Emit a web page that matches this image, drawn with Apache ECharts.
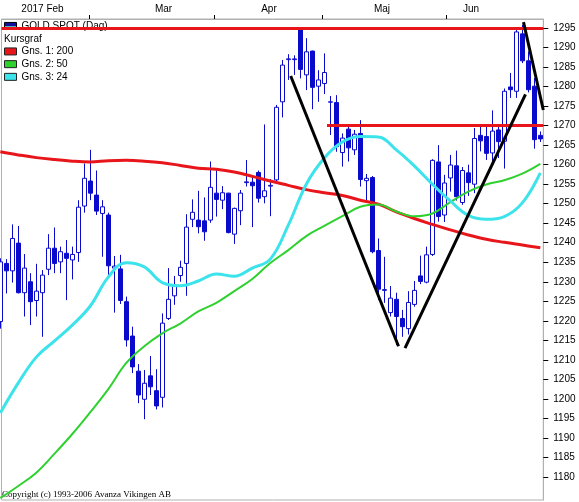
<!DOCTYPE html>
<html><head><meta charset="utf-8">
<script src="https://cdn.jsdelivr.net/npm/echarts@6/dist/echarts.min.js"></script>
<style>html,body{margin:0;padding:0;background:#fff}#c{width:579px;height:502px}</style>
</head><body><div id="c"></div>
<script>
// Daily candles [open, close, low, high]; index 0 is the partially visible first candle
const ohlc = [
[1219.8,1235.1,1218.0,1236.0],[1234.7,1232.8,1227.0,1235.8],[1232.8,1241.1,1229.8,1244.7],[1239.9,1227.2,1227.0,1244.3],
[1227.2,1233.5,1221.1,1237.1],[1230.0,1224.9,1218.9,1232.2],[1225.2,1227.6,1221.1,1234.6],[1227.2,1231.7,1215.9,1233.0],
[1233.2,1238.6,1231.7,1242.2],[1238.6,1234.7,1232.2,1243.9],[1235.1,1237.7,1232.2,1239.0],[1237.3,1236.0,1225.3,1240.7],
[1235.6,1237.0,1230.6,1239.0],[1237.5,1249.1,1235.1,1250.9],[1249.4,1256.5,1247.7,1260.3],[1255.8,1252.7,1250.9,1263.8],
[1252.2,1248.1,1247.1,1258.5],[1247.5,1249.2,1236.4,1250.9],[1247.1,1234.1,1231.7,1247.7],[1233.5,1234.0,1222.1,1236.6],
[1233.3,1225.2,1224.3,1236.9],[1224.9,1215.1,1213.4,1226.2],[1216.1,1208.2,1206.6,1218.5],[1207.1,1201.0,1198.9,1208.9],
[1199.9,1204.0,1194.8,1207.4],[1205.9,1203.1,1201.0,1211.0],[1202.1,1198.2,1197.3,1207.6],[1200.4,1219.4,1197.8,1221.9],
[1220.6,1225.5,1220.2,1233.5],[1226.4,1229.0,1224.1,1231.5],[1231.6,1233.7,1230.0,1235.4],[1234.7,1244.0,1226.4,1247.3],
[1246.0,1247.8,1244.0,1251.1],[1245.8,1244.1,1242.4,1253.3],[1245.6,1242.8,1240.5,1251.6],[1245.8,1254.2,1245.1,1260.8],
[1252.7,1251.1,1246.7,1258.6],[1250.9,1252.8,1248.6,1254.5],[1252.7,1242.6,1242.4,1252.8],[1242.2,1248.8,1239.7,1249.0],
[1248.2,1252.7,1244.5,1253.5],[1255.4,1255.6,1254.4,1261.2],[1255.5,1254.6,1244.0,1256.8],[1258.0,1251.4,1250.3,1258.5],
[1251.8,1253.3,1250.1,1270.3],[1254.5,1254.7,1246.8,1256.3],[1256.1,1274.7,1255.3,1275.3],[1276.1,1285.5,1272.1,1286.8],
[1286.9,1287.1,1281.7,1288.3],[1286.9,1287.1,1283.0,1288.0],[1294.5,1284.4,1282.1,1295.0],[1283.0,1288.9,1279.1,1292.4],
[1289.1,1279.8,1274.2,1289.2],[1280.1,1281.7,1276.1,1284.2],[1280.8,1283.6,1278.1,1288.5],[1276.0,1276.1,1267.6,1277.6],
[1275.9,1264.6,1263.3,1277.8],[1263.1,1266.8,1259.5,1268.0],[1269.1,1264.3,1260.8,1269.7],[1263.8,1267.8,1262.5,1268.9],
[1268.0,1256.2,1254.4,1271.4],[1255.9,1256.5,1250.5,1257.6],[1256.7,1237.7,1237.3,1257.1],[1238.0,1228.1,1225.3,1241.1],
[1227.8,1228.0,1224.6,1236.4],[1222.1,1225.8,1221.1,1228.9],[1225.5,1221.1,1213.8,1227.2],[1220.6,1218.5,1215.9,1222.8],
[1218.0,1224.7,1216.5,1227.6],[1224.2,1227.8,1223.6,1230.2],[1231.5,1230.1,1229.4,1236.7],[1229.9,1236.9,1229.6,1239.0],
[1237.0,1261.1,1236.6,1261.4],[1260.7,1246.7,1245.4,1265.0],[1247.1,1255.3,1245.3,1257.4],[1256.6,1259.9,1253.1,1262.5],
[1259.7,1251.8,1250.8,1263.6],[1250.3,1258.5,1249.7,1259.4],[1257.9,1255.4,1252.0,1260.0],[1255.0,1266.7,1252.7,1269.4],
[1267.5,1266.1,1263.4,1269.8],[1267.2,1262.9,1261.2,1270.3],[1263.0,1268.6,1260.6,1273.9],[1268.9,1265.9,1261.7,1270.1],
[1266.0,1278.8,1259.0,1279.5],[1279.9,1279.2,1277.1,1283.5],[1278.8,1294.0,1277.1,1295.0],[1293.5,1286.6,1286.0,1295.8],
[1286.6,1279.2,1278.5,1289.0],[1280.1,1266.4,1264.1,1282.2],[1267.5,1266.6,1265.8,1268.5]
];
// Moving averages read every 3rd candle
const maIdx = [0,3,6,9,12,15,18,21,24,27,30,33,36,39,42,45,48,51,54,57,60,63,66,69,72,75,78,81,84,87,90];
const ma200 = [1263.3,1262.5,1261.8,1261.3,1260.9,1260.7,1261.0,1261.1,1260.9,1260.5,1259.8,1259.1,1258.8,1258.1,1257.0,1255.8,1254.7,1253.6,1252.8,1252.1,1250.9,1249.9,1247.9,1246.2,1244.7,1243.3,1242.0,1240.9,1240.1,1239.4,1238.7];
const ma50 = [1174.6,1177.7,1181.1,1185.9,1191.0,1196.6,1202.5,1209.2,1213.5,1216.8,1219.3,1222.4,1224.6,1227.6,1230.7,1234.8,1238.1,1241.7,1244.3,1246.8,1249.2,1249.8,1248.0,1246.8,1247.5,1250.4,1253.1,1254.9,1256.0,1257.7,1260.2];
const ma24 = [1196.4,1204.1,1210.7,1214.8,1218.9,1223.8,1231.2,1234.9,1233.8,1229.8,1229.0,1230.2,1232.0,1231.4,1233.5,1235.8,1244.5,1255.0,1261.7,1265.8,1267.2,1267.1,1263.8,1259.7,1255.0,1250.7,1247.0,1246.0,1246.7,1250.2,1257.9];
// Drawn trend lines and levels
const trendDown = [[48.4,1282.7],[66.37,1213.5]];
const trendUp = [[67.45,1213.0],[87.53,1278.0]];
const trendTop = [[87.2,1296.5],[90.5,1274.0]];
const levelTop = 1295;
const levelMid = 1270, levelMidFrom = 54.45;
// Axis ticks / labels
const monthTicks = [14.87,35.62,53.7,74.37];
const monthLabelPos = [7.03,27.2,44.78,63.62,78.45];
const monthLabels = ['2017 Feb','Mar','Apr','Maj','Jun'];
const yTicks = [1180,1185,1190,1195,1200,1205,1210,1215,1220,1225,1230,1235,1240,1245,1250,1255,1260,1265,1270,1275,1280,1285,1290,1295];

const RED='#e8161b', GREEN='#2fd12f', CYAN='#3ce3ea', BLUE='#0a0acd', GRAY='#b0b0b0';
const FONT = 'Liberation Sans, Arial, sans-serif';
const pair = (idx, vals) => idx.map((x,i)=>[x, vals[i]]);
const candleData = ohlc.map((d,i)=>[i, d[0], d[1], d[2], d[3]]);

const chart = echarts.init(document.getElementById('c'));
chart.setOption({
  animation:false,
  title:[
    {text:'Kursgraf', left:4, top:32.6, padding:0, z:1,
     textStyle:{fontSize:10, fontWeight:'normal', color:'#000', fontFamily:FONT, lineHeight:12.7}},
    {text:'Copyright (c) 1993-2006 Avanza Vikingen AB', left:2, top:489.5, padding:0, z:1,
     textStyle:{fontSize:9, fontWeight:'normal', color:'#000', fontFamily:'Liberation Serif, Times New Roman, serif', lineHeight:11}}
  ],
  legend:[
    {data:[{name:'GOLD SPOT (Dag)', icon:'rect', itemStyle:{color:{type:'linear',x:0,y:0,x2:0,y2:1,colorStops:[{offset:0,color:'#1010a0'},{offset:0.5,color:'#1010a0'},{offset:0.5,color:'#50b8b8'},{offset:1,color:'#50b8b8'}]}, borderColor:'#000', borderWidth:1}}],
     left:4, top:19.6, padding:0, itemWidth:12, itemHeight:7, itemGap:0, selectedMode:false, z:1,
     textStyle:{fontSize:10, color:'#000', fontFamily:FONT, lineHeight:12.7}},
    {data:['Gns. 1: 200','Gns. 2: 50','Gns. 3: 24'], orient:'vertical', icon:'rect',
     left:4, top:45.1, padding:0, itemWidth:12, itemHeight:7, itemGap:0, selectedMode:false, z:1,
     itemStyle:{borderColor:'#222', borderWidth:1},
     textStyle:{fontSize:10, color:'#000', fontFamily:FONT, lineHeight:12.7}}
  ],
  grid:{left:1.5, right:35.7, top:19, bottom:2, show:true, borderColor:GRAY, borderWidth:1, backgroundColor:'transparent'},
  xAxis:{type:'value', position:'top', min:0.2, max:90.5, splitLine:{show:false},
    axisLine:{show:true, lineStyle:{color:GRAY}},
    axisTick:{show:true, customValues:monthTicks, length:4, lineStyle:{color:'#000'}},
    axisLabel:{customValues:monthLabelPos, color:'#000', fontSize:10, fontFamily:FONT, margin:5,
      formatter:function(v){ for(let i=0;i<monthLabelPos.length;i++){ if(Math.abs(monthLabelPos[i]-v)<1e-6) return monthLabels[i]; } return ''; }}
  },
  yAxis:{type:'value', position:'right', min:1174.1, max:1297.31, splitLine:{show:false},
    axisLine:{show:true, lineStyle:{color:GRAY}},
    axisTick:{show:true, customValues:yTicks, length:5, lineStyle:{color:'#000'}},
    axisLabel:{customValues:yTicks, color:'#000', fontSize:10, fontFamily:FONT, margin:10,
      formatter:function(v){ return String(v); }}
  },
  series:[
    {type:'candlestick', name:'GOLD SPOT (Dag)', data:candleData, encode:{x:0, y:[1,2,3,4]},
     barWidth:5, clip:true, z:2,
     itemStyle:{color:'#ffffff', color0:BLUE, borderColor:BLUE, borderColor0:BLUE, borderWidth:1}},
    {type:'line', name:'Gns. 1: 200', data:pair(maIdx, ma200), smooth:0.4, showSymbol:false, clip:true, z:3,
     lineStyle:{color:RED, width:3}, itemStyle:{color:RED}},
    {type:'line', name:'Gns. 2: 50', data:pair(maIdx, ma50), smooth:0.4, showSymbol:false, clip:true, z:3,
     lineStyle:{color:GREEN, width:2}, itemStyle:{color:GREEN}},
    {type:'line', name:'Gns. 3: 24', data:pair(maIdx, ma24), smooth:0.4, showSymbol:false, clip:true, z:3,
     lineStyle:{color:CYAN, width:3}, itemStyle:{color:CYAN}},
    {type:'line', name:'trend1', data:trendDown, showSymbol:false, clip:true, z:5,
     lineStyle:{color:'#000', width:3}, itemStyle:{color:'#000'},
     markLine:{silent:true, symbol:['none','none'], label:{show:false}, animation:false,
       lineStyle:{color:RED, width:3, type:'solid'},
       data:[{yAxis:levelTop}, [{coord:[levelMidFrom, levelMid]}, {coord:[90.5, levelMid]}]]}},
    {type:'line', name:'trend2', data:trendUp, showSymbol:false, clip:true, z:5,
     lineStyle:{color:'#000', width:3}, itemStyle:{color:'#000'}},
    {type:'line', name:'trend3', data:trendTop, showSymbol:false, clip:true, z:5,
     lineStyle:{color:'#000', width:3}, itemStyle:{color:'#000'}}
  ]
});
</script>
</body></html>
